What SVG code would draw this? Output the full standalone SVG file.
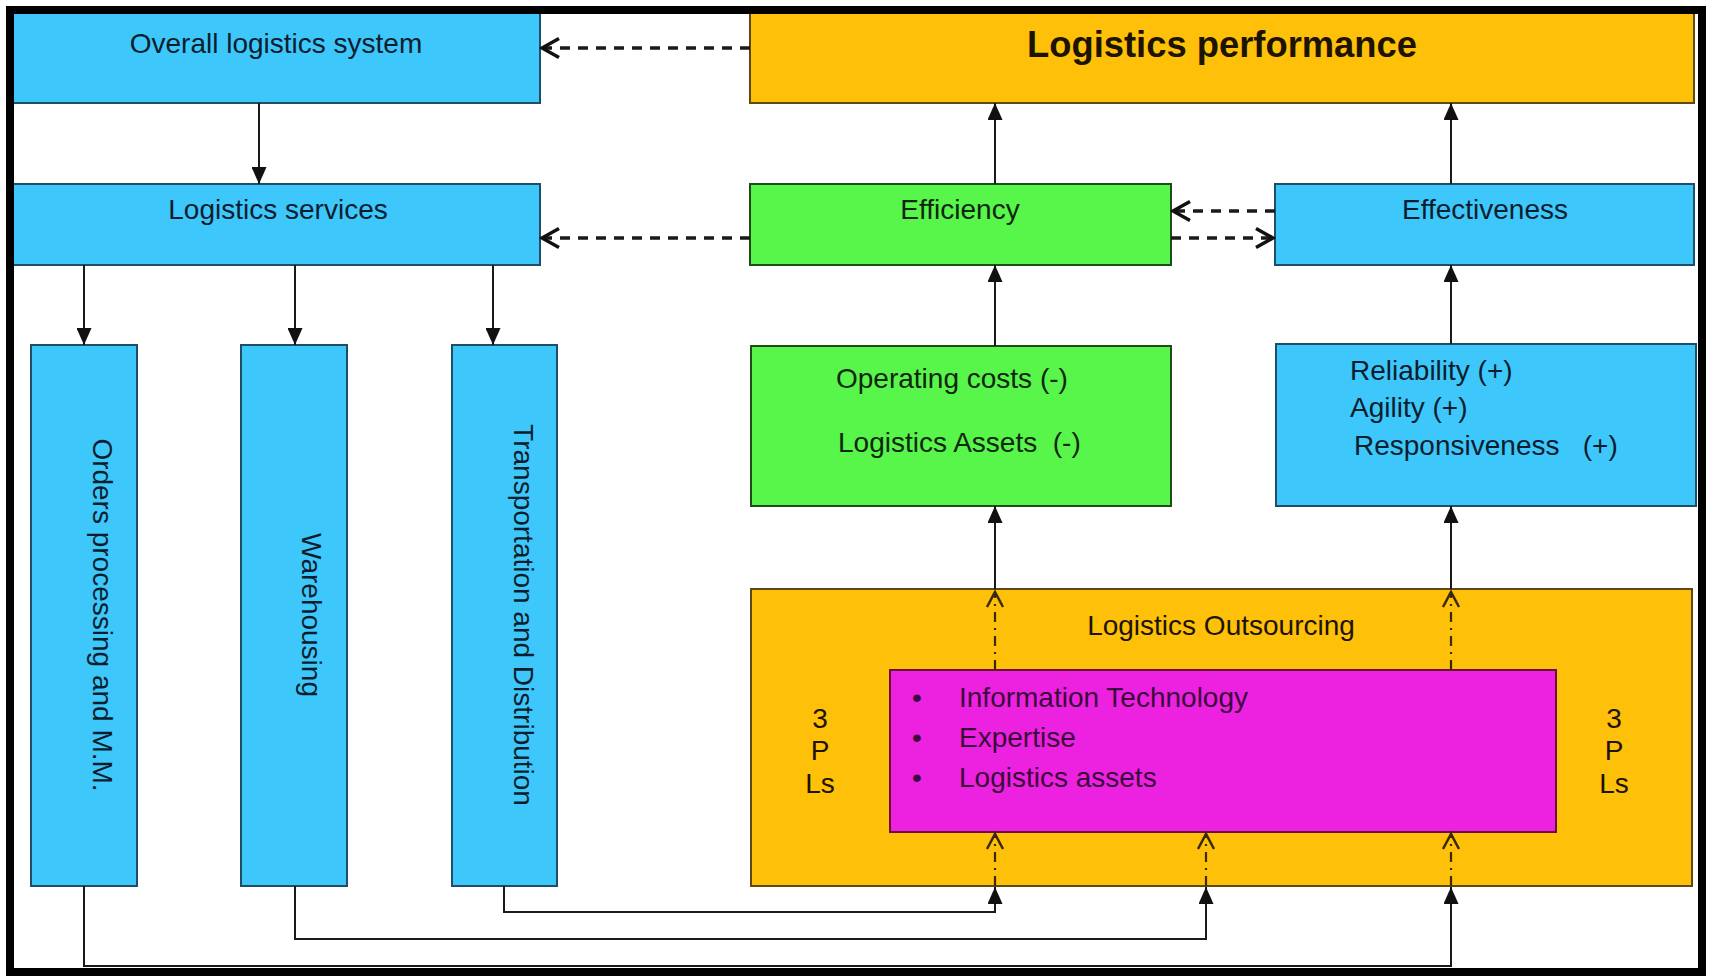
<svg xmlns="http://www.w3.org/2000/svg" width="1717" height="976" viewBox="0 0 1717 976">
  <style>
    .box { stroke-width: 2; }
    .blue { fill: #3EC7FB; stroke: #1f4f66; }
    .orange { fill: #FEC008; stroke: #5e4a10; }
    .green { fill: #58F54B; stroke: #1e4d1a; }
    .magenta { fill: #EC22E0; stroke: #6a1040; }
    text { font-family: "Liberation Sans", Arial, sans-serif; font-size: 28px; }
    .tb { fill: #0c1e2e; }
    .tg { fill: #0f260f; }
    .to { fill: #1c1400; }
    .tm { fill: #3a0a3a; }
    .mid { text-anchor: middle; }
    .solid { fill: none; stroke: #1a1a1a; stroke-width: 2; }
    .dash { fill: none; stroke: #1a1a1a; stroke-width: 3.5; stroke-dasharray: 10 8; }
    .dashdot { fill: none; stroke: #3a2a08; stroke-width: 2.2; stroke-dasharray: 10 6 2 6; }
  </style>
  <defs>
    <marker id="arrowFilled" markerUnits="userSpaceOnUse" viewBox="0 0 17 15" markerWidth="17" markerHeight="15" refX="17" refY="7.5" orient="auto">
      <path d="M0,0 L17,7.5 L0,15 Z" fill="#111"/>
    </marker>
    <marker id="arrowOpen" markerUnits="userSpaceOnUse" viewBox="-3 -3 23 25" markerWidth="23" markerHeight="25" refX="17" refY="9.5" orient="auto">
      <path d="M0,0 L17,9.5 L0,19" fill="none" stroke="#111" stroke-width="3.5"/>
    </marker>
    <marker id="arrowOpenSmall" markerUnits="userSpaceOnUse" viewBox="-3 -3 21 22" markerWidth="21" markerHeight="22" refX="15" refY="8" orient="auto">
      <path d="M0,0 L15,8 L0,16" fill="none" stroke="#3a2a08" stroke-width="2.5"/>
    </marker>
  </defs>

  <rect x="0" y="0" width="1717" height="976" fill="#ffffff"/>

  <!-- nodes -->
  <g id="overall-system">
    <rect class="box blue" x="13" y="13" width="527" height="90"/>
    <text class="tb mid" x="276" y="53">Overall logistics system</text>
  </g>
  <g id="logistics-performance">
    <rect class="box orange" x="750" y="13" width="944" height="90"/>
    <text class="to mid" x="1222" y="57" font-weight="bold" style="font-size:36px" textLength="390" lengthAdjust="spacingAndGlyphs">Logistics performance</text>
  </g>
  <g id="logistics-services">
    <rect class="box blue" x="13" y="184" width="527" height="81"/>
    <text class="tb mid" x="278" y="219">Logistics services</text>
  </g>
  <g id="efficiency">
    <rect class="box green" x="750" y="184" width="421" height="81"/>
    <text class="tg mid" x="960" y="219">Efficiency</text>
  </g>
  <g id="effectiveness">
    <rect class="box blue" x="1275" y="184" width="419" height="81"/>
    <text class="tb mid" x="1485" y="219">Effectiveness</text>
  </g>
  <g id="orders-processing">
    <rect class="box blue" x="31" y="345" width="106" height="541"/>
    <text class="tb mid" transform="translate(93 615) rotate(90)">Orders processing and M.M.</text>
  </g>
  <g id="warehousing">
    <rect class="box blue" x="241" y="345" width="106" height="541"/>
    <text class="tb mid" transform="translate(302 615) rotate(90)">Warehousing</text>
  </g>
  <g id="transportation">
    <rect class="box blue" x="452" y="345" width="105" height="541"/>
    <text class="tb mid" transform="translate(514 615) rotate(90)">Transportation and Distribution</text>
  </g>
  <g id="efficiency-drivers">
    <rect class="box green" x="751" y="346" width="420" height="160"/>
    <text class="tg" x="836" y="388">Operating costs (-)</text>
    <text class="tg" x="838" y="452" xml:space="preserve">Logistics Assets  (-)</text>
  </g>
  <g id="effectiveness-drivers">
    <rect class="box blue" x="1276" y="344" width="420" height="162"/>
    <text class="tb" x="1350" y="380">Reliability (+)</text>
    <text class="tb" x="1350" y="417">Agility (+)</text>
    <text class="tb" x="1354" y="455" xml:space="preserve">Responsiveness   (+)</text>
  </g>
  <g id="logistics-outsourcing">
    <rect class="box orange" x="751" y="589" width="941" height="297"/>
    <text class="to mid" x="1221" y="635">Logistics Outsourcing</text>
    <text class="to mid" x="820" y="728">3</text>
    <text class="to mid" x="820" y="760">P</text>
    <text class="to mid" x="820" y="793">Ls</text>
    <text class="to mid" x="1614" y="728">3</text>
    <text class="to mid" x="1614" y="760">P</text>
    <text class="to mid" x="1614" y="793">Ls</text>
  </g>
  <g id="outsourcing-resources">
    <rect class="box magenta" x="890" y="670" width="666" height="162"/>
    <text class="tm mid" x="917" y="707">•</text>
    <text class="tm" x="959" y="707">Information Technology</text>
    <text class="tm mid" x="917" y="747">•</text>
    <text class="tm" x="959" y="747">Expertise</text>
    <text class="tm mid" x="917" y="787">•</text>
    <text class="tm" x="959" y="787">Logistics assets</text>
  </g>

  <!-- connectors -->
  <g id="connectors">
    <!-- top-down flow on the left -->
    <line class="solid" x1="259" y1="103" x2="259" y2="184" marker-end="url(#arrowFilled)"/>
    <line class="solid" x1="84" y1="265" x2="84" y2="345" marker-end="url(#arrowFilled)"/>
    <line class="solid" x1="295" y1="265" x2="295" y2="345" marker-end="url(#arrowFilled)"/>
    <line class="solid" x1="493" y1="265" x2="493" y2="345" marker-end="url(#arrowFilled)"/>

    <!-- feedback links -->
    <line class="dash" x1="750" y1="48" x2="542" y2="48" marker-end="url(#arrowOpen)"/>
    <line class="dash" x1="750" y1="238" x2="542" y2="238" marker-end="url(#arrowOpen)"/>
    <line class="dash" x1="1275" y1="211" x2="1173" y2="211" marker-end="url(#arrowOpen)"/>
    <line class="dash" x1="1171" y1="238" x2="1273" y2="238" marker-end="url(#arrowOpen)"/>

    <!-- upward flow on the right -->
    <line class="solid" x1="995" y1="184" x2="995" y2="103" marker-end="url(#arrowFilled)"/>
    <line class="solid" x1="1451" y1="184" x2="1451" y2="103" marker-end="url(#arrowFilled)"/>
    <line class="solid" x1="995" y1="346" x2="995" y2="265" marker-end="url(#arrowFilled)"/>
    <line class="solid" x1="1451" y1="344" x2="1451" y2="265" marker-end="url(#arrowFilled)"/>
    <line class="solid" x1="995" y1="589" x2="995" y2="506" marker-end="url(#arrowFilled)"/>
    <line class="solid" x1="1451" y1="589" x2="1451" y2="506" marker-end="url(#arrowFilled)"/>

    <!-- dash-dot links through the outsourcing box -->
    <line class="dashdot" x1="995" y1="670" x2="995" y2="592" marker-end="url(#arrowOpenSmall)"/>
    <line class="dashdot" x1="1451" y1="670" x2="1451" y2="592" marker-end="url(#arrowOpenSmall)"/>
    <line class="dashdot" x1="995" y1="886" x2="995" y2="834" marker-end="url(#arrowOpenSmall)"/>
    <line class="dashdot" x1="1206" y1="886" x2="1206" y2="834" marker-end="url(#arrowOpenSmall)"/>
    <line class="dashdot" x1="1451" y1="886" x2="1451" y2="834" marker-end="url(#arrowOpenSmall)"/>

    <!-- service boxes feeding the outsourcing box -->
    <polyline class="solid" points="504,886 504,912 995,912 995,887" marker-end="url(#arrowFilled)"/>
    <polyline class="solid" points="295,886 295,939 1206,939 1206,887" marker-end="url(#arrowFilled)"/>
    <polyline class="solid" points="84,886 84,966 1451,966 1451,887" marker-end="url(#arrowFilled)"/>
  </g>

  <!-- outer frame -->
  <rect x="10" y="10" width="1692" height="962" fill="none" stroke="#000" stroke-width="8"/>
</svg>
